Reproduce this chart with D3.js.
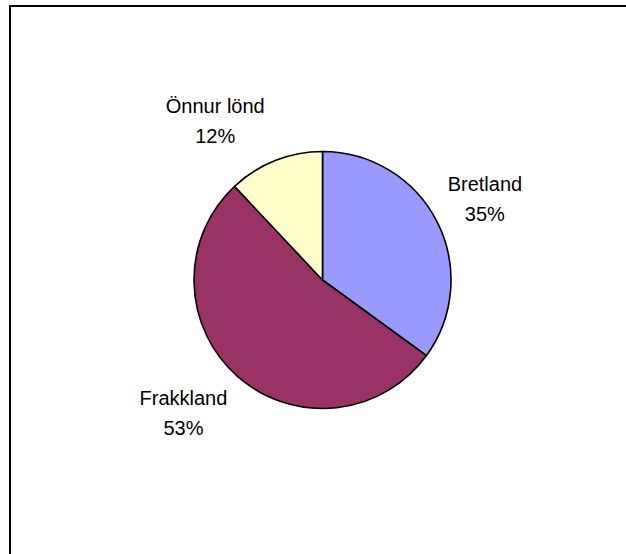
<!DOCTYPE html>
<html>
<head>
<meta charset="utf-8">
<script src="https://cdn.jsdelivr.net/npm/d3@7"></script>
<style>
  html, body { margin: 0; padding: 0; background: #fff; }
  svg { display: block; }
</style>
</head>
<body>
<svg id="chart" width="626" height="554"></svg>
<script>
// Share of total by country
const categories = ["Bretland", "Frakkland", "Önnur lönd"];
const values = [35, 53, 12];
const percentLabels = ["35%", "53%", "12%"];
const colors = ["#9999FF", "#993366", "#FFFFCC"];
// fine positioning of each label around its slice
const labelNudge = [[2, 8], [-20, 5], [-41, 15]];

const svg = d3.select("#chart");
const W = 626, H = 554;

// chart frame (runs off the right and bottom edges)
svg.append("rect")
  .attr("x", 10).attr("y", 6)
  .attr("width", 700).attr("height", 700)
  .attr("fill", "#fff")
  .attr("stroke", "#000")
  .attr("stroke-width", 2);

const cx = 322.5, cy = 280, R = 128.5;
const g = svg.append("g").attr("transform", `translate(${cx},${cy})`);

const pie = d3.pie().sort(null).value(d => d)(values);
const arc = d3.arc().innerRadius(0).outerRadius(R);
const labelArc = d3.arc().innerRadius(180).outerRadius(180);

g.selectAll("path.slice")
  .data(pie)
  .join("path")
  .attr("class", "slice")
  .attr("d", arc)
  .attr("fill", (d, i) => colors[i])
  .attr("stroke", "#000")
  .attr("stroke-width", 1.6)
  .attr("stroke-linejoin", "round");

const labels = g.selectAll("text.lbl")
  .data(pie)
  .join("text")
  .attr("class", "lbl")
  .attr("font-family", "Arial, 'Liberation Sans', sans-serif")
  .attr("font-size", 20)
  .attr("fill", "#000")
  .attr("text-anchor", "middle")
  .attr("transform", (d, i) => {
    const [x, y] = labelArc.centroid(d);
    return `translate(${x + labelNudge[i][0]},${y + labelNudge[i][1]})`;
  });

labels.append("tspan").attr("x", 0).attr("y", -15).text((d, i) => categories[i]);
labels.append("tspan").attr("x", 0).attr("y", 15).text((d, i) => percentLabels[i]);
</script>
</body>
</html>
